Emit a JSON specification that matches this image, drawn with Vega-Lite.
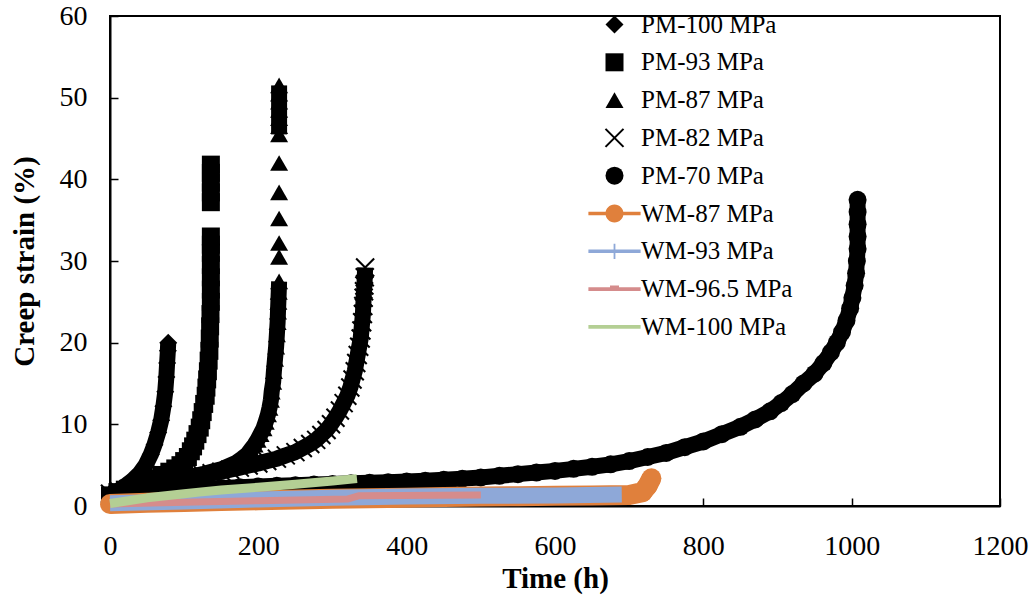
{
  "$schema": "https://vega.github.io/schema/vega-lite/v6.json",
  "width": 890,
  "height": 490,
  "autosize": {"type": "none"},
  "padding": {"left": 110, "top": 16, "right": 35, "bottom": 95},
  "background": "white",
  "config": {
    "view": {"stroke": "black", "strokeWidth": 2},
    "axis": {
      "grid": false,
      "labelFlush": false,
      "domainColor": "black",
      "domainWidth": 2,
      "tickColor": "black",
      "tickWidth": 1.5,
      "tickSize": -8,
      "labelFont": "Liberation Serif",
      "labelFontSize": 28,
      "labelColor": "black",
      "titleFont": "Liberation Serif",
      "titleFontSize": 29,
      "titleFontWeight": "bold",
      "titleColor": "black"
    },
    "legend": {
      "orient": "none",
      "legendX": 492,
      "legendY": -4,
      "padding": 0,
      "labelFont": "Liberation Serif",
      "labelFontSize": 25,
      "labelColor": "black",
      "labelOffset": 14,
      "rowPadding": 11.8,
      "symbolSize": 324,
      "symbolStrokeWidth": 0,
      "symbolOpacity": 1
    }
  },
  "data": {
    "values": [
      {"s": "PM-100 MPa", "run": 1, "t": 0, "e": 1.2},
      {"s": "PM-100 MPa", "run": 1, "t": 10, "e": 1.8},
      {"s": "PM-100 MPa", "run": 1, "t": 20, "e": 2.4},
      {"s": "PM-100 MPa", "run": 1, "t": 30, "e": 3.1},
      {"s": "PM-100 MPa", "run": 1, "t": 40, "e": 4.0},
      {"s": "PM-100 MPa", "run": 1, "t": 48, "e": 5.0},
      {"s": "PM-100 MPa", "run": 1, "t": 55, "e": 6.3},
      {"s": "PM-100 MPa", "run": 1, "t": 60, "e": 7.5},
      {"s": "PM-100 MPa", "run": 1, "t": 65, "e": 9.0},
      {"s": "PM-100 MPa", "run": 1, "t": 69, "e": 10.5},
      {"s": "PM-100 MPa", "run": 1, "t": 72, "e": 12.2},
      {"s": "PM-100 MPa", "run": 1, "t": 74.5, "e": 14.0},
      {"s": "PM-100 MPa", "run": 1, "t": 76, "e": 15.8},
      {"s": "PM-100 MPa", "run": 1, "t": 77, "e": 17.5},
      {"s": "PM-100 MPa", "run": 1, "t": 78, "e": 19.0},
      {"s": "PM-100 MPa", "run": 1, "t": 78.5, "e": 20.0},

      {"s": "PM-93 MPa", "run": 1, "t": 0, "e": 1.3},
      {"s": "PM-93 MPa", "run": 1, "t": 10, "e": 1.7},
      {"s": "PM-93 MPa", "run": 1, "t": 20, "e": 2.0},
      {"s": "PM-93 MPa", "run": 1, "t": 30, "e": 2.35},
      {"s": "PM-93 MPa", "run": 1, "t": 40, "e": 2.7},
      {"s": "PM-93 MPa", "run": 1, "t": 50, "e": 3.05},
      {"s": "PM-93 MPa", "run": 1, "t": 60, "e": 3.4},
      {"s": "PM-93 MPa", "run": 1, "t": 70, "e": 3.8},
      {"s": "PM-93 MPa", "run": 1, "t": 80, "e": 4.2},
      {"s": "PM-93 MPa", "run": 1, "t": 88, "e": 4.6},
      {"s": "PM-93 MPa", "run": 1, "t": 95, "e": 5.0},
      {"s": "PM-93 MPa", "run": 1, "t": 100, "e": 5.5},
      {"s": "PM-93 MPa", "run": 1, "t": 105, "e": 6.0},
      {"s": "PM-93 MPa", "run": 1, "t": 109, "e": 6.7},
      {"s": "PM-93 MPa", "run": 1, "t": 112, "e": 7.3},
      {"s": "PM-93 MPa", "run": 1, "t": 115, "e": 8.0},
      {"s": "PM-93 MPa", "run": 1, "t": 118, "e": 8.8},
      {"s": "PM-93 MPa", "run": 1, "t": 121, "e": 9.6},
      {"s": "PM-93 MPa", "run": 1, "t": 123, "e": 10.5},
      {"s": "PM-93 MPa", "run": 1, "t": 125, "e": 11.5},
      {"s": "PM-93 MPa", "run": 1, "t": 127, "e": 12.5},
      {"s": "PM-93 MPa", "run": 1, "t": 129, "e": 13.5},
      {"s": "PM-93 MPa", "run": 1, "t": 130, "e": 14.5},
      {"s": "PM-93 MPa", "run": 1, "t": 131, "e": 15.5},
      {"s": "PM-93 MPa", "run": 1, "t": 132, "e": 16.5},
      {"s": "PM-93 MPa", "run": 1, "t": 133, "e": 17.8},
      {"s": "PM-93 MPa", "run": 1, "t": 134, "e": 19.0},
      {"s": "PM-93 MPa", "run": 1, "t": 134.5, "e": 20.5},
      {"s": "PM-93 MPa", "run": 1, "t": 135, "e": 22.0},
      {"s": "PM-93 MPa", "run": 1, "t": 135.5, "e": 23.5},
      {"s": "PM-93 MPa", "run": 1, "t": 136, "e": 25.0},
      {"s": "PM-93 MPa", "run": 1, "t": 136, "e": 26.5},
      {"s": "PM-93 MPa", "run": 1, "t": 136, "e": 28.0},
      {"s": "PM-93 MPa", "run": 1, "t": 136, "e": 29.5},
      {"s": "PM-93 MPa", "run": 1, "t": 136, "e": 31.0},
      {"s": "PM-93 MPa", "run": 1, "t": 136, "e": 32.0},
      {"s": "PM-93 MPa", "run": 1, "t": 136, "e": 33.0},
      {"s": "PM-93 MPa", "run": 2, "t": 136, "e": 37.2},
      {"s": "PM-93 MPa", "run": 2, "t": 136, "e": 38.4},
      {"s": "PM-93 MPa", "run": 2, "t": 136, "e": 39.6},
      {"s": "PM-93 MPa", "run": 2, "t": 136, "e": 40.8},
      {"s": "PM-93 MPa", "run": 2, "t": 136, "e": 41.8},

      {"s": "PM-87 MPa", "run": 1, "t": 0, "e": 1.4},
      {"s": "PM-87 MPa", "run": 1, "t": 12, "e": 1.7},
      {"s": "PM-87 MPa", "run": 1, "t": 25, "e": 2.0},
      {"s": "PM-87 MPa", "run": 1, "t": 37, "e": 2.25},
      {"s": "PM-87 MPa", "run": 1, "t": 50, "e": 2.5},
      {"s": "PM-87 MPa", "run": 1, "t": 62, "e": 2.75},
      {"s": "PM-87 MPa", "run": 1, "t": 75, "e": 3.0},
      {"s": "PM-87 MPa", "run": 1, "t": 87, "e": 3.2},
      {"s": "PM-87 MPa", "run": 1, "t": 100, "e": 3.4},
      {"s": "PM-87 MPa", "run": 1, "t": 112, "e": 3.65},
      {"s": "PM-87 MPa", "run": 1, "t": 125, "e": 3.9},
      {"s": "PM-87 MPa", "run": 1, "t": 137, "e": 4.2},
      {"s": "PM-87 MPa", "run": 1, "t": 150, "e": 4.5},
      {"s": "PM-87 MPa", "run": 1, "t": 160, "e": 4.9},
      {"s": "PM-87 MPa", "run": 1, "t": 170, "e": 5.3},
      {"s": "PM-87 MPa", "run": 1, "t": 178, "e": 5.8},
      {"s": "PM-87 MPa", "run": 1, "t": 185, "e": 6.3},
      {"s": "PM-87 MPa", "run": 1, "t": 190, "e": 6.9},
      {"s": "PM-87 MPa", "run": 1, "t": 195, "e": 7.5},
      {"s": "PM-87 MPa", "run": 1, "t": 199, "e": 8.1},
      {"s": "PM-87 MPa", "run": 1, "t": 203, "e": 8.8},
      {"s": "PM-87 MPa", "run": 1, "t": 207, "e": 9.5},
      {"s": "PM-87 MPa", "run": 1, "t": 210, "e": 10.3},
      {"s": "PM-87 MPa", "run": 1, "t": 213, "e": 11.2},
      {"s": "PM-87 MPa", "run": 1, "t": 215, "e": 12.0},
      {"s": "PM-87 MPa", "run": 1, "t": 217, "e": 13.0},
      {"s": "PM-87 MPa", "run": 1, "t": 218, "e": 14.0},
      {"s": "PM-87 MPa", "run": 1, "t": 220, "e": 15.2},
      {"s": "PM-87 MPa", "run": 1, "t": 221, "e": 16.5},
      {"s": "PM-87 MPa", "run": 1, "t": 222.5, "e": 18.0},
      {"s": "PM-87 MPa", "run": 1, "t": 224, "e": 19.5},
      {"s": "PM-87 MPa", "run": 1, "t": 225, "e": 21.0},
      {"s": "PM-87 MPa", "run": 1, "t": 226, "e": 22.5},
      {"s": "PM-87 MPa", "run": 1, "t": 226.5, "e": 23.8},
      {"s": "PM-87 MPa", "run": 1, "t": 227, "e": 25.0},
      {"s": "PM-87 MPa", "run": 1, "t": 227.5, "e": 26.2},
      {"s": "PM-87 MPa", "run": 1, "t": 228, "e": 27.5},
      {"s": "PM-87 MPa", "run": 2, "t": 228, "e": 30.5},
      {"s": "PM-87 MPa", "run": 3, "t": 228, "e": 32.2},
      {"s": "PM-87 MPa", "run": 4, "t": 228, "e": 35.2},
      {"s": "PM-87 MPa", "run": 5, "t": 228, "e": 38.4},
      {"s": "PM-87 MPa", "run": 6, "t": 228, "e": 42.0},
      {"s": "PM-87 MPa", "run": 7, "t": 228, "e": 45.5},
      {"s": "PM-87 MPa", "run": 7, "t": 228, "e": 46.5},
      {"s": "PM-87 MPa", "run": 7, "t": 228, "e": 47.5},
      {"s": "PM-87 MPa", "run": 7, "t": 228, "e": 48.5},
      {"s": "PM-87 MPa", "run": 7, "t": 228, "e": 49.5},
      {"s": "PM-87 MPa", "run": 7, "t": 228, "e": 50.5},
      {"s": "PM-87 MPa", "run": 7, "t": 228, "e": 51.5},

      {"s": "PM-82 MPa", "run": 1, "t": 0, "e": 1.5},
      {"s": "PM-82 MPa", "run": 1, "t": 12, "e": 1.8},
      {"s": "PM-82 MPa", "run": 1, "t": 25, "e": 2.1},
      {"s": "PM-82 MPa", "run": 1, "t": 37, "e": 2.35},
      {"s": "PM-82 MPa", "run": 1, "t": 50, "e": 2.6},
      {"s": "PM-82 MPa", "run": 1, "t": 62, "e": 2.8},
      {"s": "PM-82 MPa", "run": 1, "t": 75, "e": 3.0},
      {"s": "PM-82 MPa", "run": 1, "t": 87, "e": 3.2},
      {"s": "PM-82 MPa", "run": 1, "t": 100, "e": 3.4},
      {"s": "PM-82 MPa", "run": 1, "t": 112, "e": 3.6},
      {"s": "PM-82 MPa", "run": 1, "t": 125, "e": 3.8},
      {"s": "PM-82 MPa", "run": 1, "t": 137, "e": 4.0},
      {"s": "PM-82 MPa", "run": 1, "t": 150, "e": 4.2},
      {"s": "PM-82 MPa", "run": 1, "t": 162, "e": 4.45},
      {"s": "PM-82 MPa", "run": 1, "t": 175, "e": 4.7},
      {"s": "PM-82 MPa", "run": 1, "t": 187, "e": 4.95},
      {"s": "PM-82 MPa", "run": 1, "t": 200, "e": 5.2},
      {"s": "PM-82 MPa", "run": 1, "t": 212, "e": 5.5},
      {"s": "PM-82 MPa", "run": 1, "t": 225, "e": 5.8},
      {"s": "PM-82 MPa", "run": 1, "t": 237, "e": 6.2},
      {"s": "PM-82 MPa", "run": 1, "t": 250, "e": 6.6},
      {"s": "PM-82 MPa", "run": 1, "t": 260, "e": 7.1},
      {"s": "PM-82 MPa", "run": 1, "t": 270, "e": 7.6},
      {"s": "PM-82 MPa", "run": 1, "t": 278, "e": 8.1},
      {"s": "PM-82 MPa", "run": 1, "t": 285, "e": 8.7},
      {"s": "PM-82 MPa", "run": 1, "t": 292, "e": 9.3},
      {"s": "PM-82 MPa", "run": 1, "t": 298, "e": 10.0},
      {"s": "PM-82 MPa", "run": 1, "t": 304, "e": 10.8},
      {"s": "PM-82 MPa", "run": 1, "t": 310, "e": 11.7},
      {"s": "PM-82 MPa", "run": 1, "t": 315, "e": 12.6},
      {"s": "PM-82 MPa", "run": 1, "t": 320, "e": 13.5},
      {"s": "PM-82 MPa", "run": 1, "t": 324, "e": 14.5},
      {"s": "PM-82 MPa", "run": 1, "t": 327, "e": 15.5},
      {"s": "PM-82 MPa", "run": 1, "t": 330, "e": 16.5},
      {"s": "PM-82 MPa", "run": 1, "t": 332, "e": 17.5},
      {"s": "PM-82 MPa", "run": 1, "t": 334, "e": 18.5},
      {"s": "PM-82 MPa", "run": 1, "t": 336, "e": 19.5},
      {"s": "PM-82 MPa", "run": 1, "t": 338, "e": 20.5},
      {"s": "PM-82 MPa", "run": 1, "t": 339, "e": 21.5},
      {"s": "PM-82 MPa", "run": 1, "t": 340, "e": 22.5},
      {"s": "PM-82 MPa", "run": 1, "t": 341, "e": 23.5},
      {"s": "PM-82 MPa", "run": 1, "t": 341.5, "e": 24.5},
      {"s": "PM-82 MPa", "run": 1, "t": 342, "e": 25.5},
      {"s": "PM-82 MPa", "run": 1, "t": 342.5, "e": 26.3},
      {"s": "PM-82 MPa", "run": 1, "t": 343, "e": 27.0},
      {"s": "PM-82 MPa", "run": 1, "t": 343.5, "e": 28.0},
      {"s": "PM-82 MPa", "run": 1, "t": 344, "e": 29.2},

      {"s": "PM-70 MPa", "run": 1, "t": 0, "e": 1.2},
      {"s": "PM-70 MPa", "run": 1, "t": 15, "e": 1.45},
      {"s": "PM-70 MPa", "run": 1, "t": 30, "e": 1.6},
      {"s": "PM-70 MPa", "run": 1, "t": 50, "e": 1.75},
      {"s": "PM-70 MPa", "run": 1, "t": 75, "e": 1.9},
      {"s": "PM-70 MPa", "run": 1, "t": 100, "e": 2.0},
      {"s": "PM-70 MPa", "run": 1, "t": 125, "e": 2.1},
      {"s": "PM-70 MPa", "run": 1, "t": 150, "e": 2.2},
      {"s": "PM-70 MPa", "run": 1, "t": 175, "e": 2.3},
      {"s": "PM-70 MPa", "run": 1, "t": 200, "e": 2.4},
      {"s": "PM-70 MPa", "run": 1, "t": 225, "e": 2.48},
      {"s": "PM-70 MPa", "run": 1, "t": 250, "e": 2.55},
      {"s": "PM-70 MPa", "run": 1, "t": 275, "e": 2.62},
      {"s": "PM-70 MPa", "run": 1, "t": 300, "e": 2.7},
      {"s": "PM-70 MPa", "run": 1, "t": 325, "e": 2.78},
      {"s": "PM-70 MPa", "run": 1, "t": 350, "e": 2.85},
      {"s": "PM-70 MPa", "run": 1, "t": 375, "e": 2.92},
      {"s": "PM-70 MPa", "run": 1, "t": 400, "e": 3.0},
      {"s": "PM-70 MPa", "run": 1, "t": 425, "e": 3.1},
      {"s": "PM-70 MPa", "run": 1, "t": 450, "e": 3.2},
      {"s": "PM-70 MPa", "run": 1, "t": 475, "e": 3.35},
      {"s": "PM-70 MPa", "run": 1, "t": 500, "e": 3.5},
      {"s": "PM-70 MPa", "run": 1, "t": 525, "e": 3.7},
      {"s": "PM-70 MPa", "run": 1, "t": 550, "e": 3.9},
      {"s": "PM-70 MPa", "run": 1, "t": 575, "e": 4.1},
      {"s": "PM-70 MPa", "run": 1, "t": 600, "e": 4.3},
      {"s": "PM-70 MPa", "run": 1, "t": 625, "e": 4.55},
      {"s": "PM-70 MPa", "run": 1, "t": 650, "e": 4.8},
      {"s": "PM-70 MPa", "run": 1, "t": 675, "e": 5.1},
      {"s": "PM-70 MPa", "run": 1, "t": 700, "e": 5.5},
      {"s": "PM-70 MPa", "run": 1, "t": 725, "e": 6.0},
      {"s": "PM-70 MPa", "run": 1, "t": 750, "e": 6.5},
      {"s": "PM-70 MPa", "run": 1, "t": 775, "e": 7.2},
      {"s": "PM-70 MPa", "run": 1, "t": 800, "e": 7.9},
      {"s": "PM-70 MPa", "run": 1, "t": 825, "e": 8.8},
      {"s": "PM-70 MPa", "run": 1, "t": 850, "e": 9.7},
      {"s": "PM-70 MPa", "run": 1, "t": 870, "e": 10.6},
      {"s": "PM-70 MPa", "run": 1, "t": 890, "e": 11.6},
      {"s": "PM-70 MPa", "run": 1, "t": 905, "e": 12.6},
      {"s": "PM-70 MPa", "run": 1, "t": 920, "e": 13.7},
      {"s": "PM-70 MPa", "run": 1, "t": 935, "e": 15.0},
      {"s": "PM-70 MPa", "run": 1, "t": 950, "e": 16.2},
      {"s": "PM-70 MPa", "run": 1, "t": 962, "e": 17.5},
      {"s": "PM-70 MPa", "run": 1, "t": 972, "e": 18.8},
      {"s": "PM-70 MPa", "run": 1, "t": 980, "e": 20.0},
      {"s": "PM-70 MPa", "run": 1, "t": 987, "e": 21.3},
      {"s": "PM-70 MPa", "run": 1, "t": 993, "e": 22.7},
      {"s": "PM-70 MPa", "run": 1, "t": 998, "e": 24.2},
      {"s": "PM-70 MPa", "run": 1, "t": 1001, "e": 25.5},
      {"s": "PM-70 MPa", "run": 1, "t": 1004, "e": 27.0},
      {"s": "PM-70 MPa", "run": 1, "t": 1006, "e": 28.5},
      {"s": "PM-70 MPa", "run": 1, "t": 1007, "e": 30.0},
      {"s": "PM-70 MPa", "run": 1, "t": 1008, "e": 31.5},
      {"s": "PM-70 MPa", "run": 1, "t": 1008, "e": 33.0},
      {"s": "PM-70 MPa", "run": 1, "t": 1008, "e": 34.5},
      {"s": "PM-70 MPa", "run": 1, "t": 1008, "e": 36.0},
      {"s": "PM-70 MPa", "run": 1, "t": 1008, "e": 37.5},

      {"s": "WM-87 MPa", "run": 1, "t": 0, "e": 0.25},
      {"s": "WM-87 MPa", "run": 1, "t": 50, "e": 0.4},
      {"s": "WM-87 MPa", "run": 1, "t": 100, "e": 0.5},
      {"s": "WM-87 MPa", "run": 1, "t": 150, "e": 0.6},
      {"s": "WM-87 MPa", "run": 1, "t": 200, "e": 0.7},
      {"s": "WM-87 MPa", "run": 1, "t": 250, "e": 0.8},
      {"s": "WM-87 MPa", "run": 1, "t": 300, "e": 0.9},
      {"s": "WM-87 MPa", "run": 1, "t": 350, "e": 0.95},
      {"s": "WM-87 MPa", "run": 1, "t": 400, "e": 1.0},
      {"s": "WM-87 MPa", "run": 1, "t": 450, "e": 1.1},
      {"s": "WM-87 MPa", "run": 1, "t": 500, "e": 1.15},
      {"s": "WM-87 MPa", "run": 1, "t": 550, "e": 1.2},
      {"s": "WM-87 MPa", "run": 1, "t": 600, "e": 1.25},
      {"s": "WM-87 MPa", "run": 1, "t": 650, "e": 1.3},
      {"s": "WM-87 MPa", "run": 1, "t": 700, "e": 1.35},
      {"s": "WM-87 MPa", "run": 1, "t": 718, "e": 1.7},
      {"s": "WM-87 MPa", "run": 1, "t": 725, "e": 2.5},
      {"s": "WM-87 MPa", "run": 1, "t": 730, "e": 3.4},

      {"s": "WM-93 MPa", "run": 1, "t": 0, "e": 0.35},
      {"s": "WM-93 MPa", "run": 1, "t": 100, "e": 0.55},
      {"s": "WM-93 MPa", "run": 1, "t": 200, "e": 0.8},
      {"s": "WM-93 MPa", "run": 1, "t": 300, "e": 1.0},
      {"s": "WM-93 MPa", "run": 1, "t": 400, "e": 1.15},
      {"s": "WM-93 MPa", "run": 1, "t": 500, "e": 1.25},
      {"s": "WM-93 MPa", "run": 1, "t": 600, "e": 1.3},
      {"s": "WM-93 MPa", "run": 1, "t": 690, "e": 1.4},

      {"s": "WM-96.5 MPa", "run": 1, "t": 0, "e": 0.25},
      {"s": "WM-96.5 MPa", "run": 1, "t": 100, "e": 0.45},
      {"s": "WM-96.5 MPa", "run": 1, "t": 200, "e": 0.65},
      {"s": "WM-96.5 MPa", "run": 1, "t": 320, "e": 0.85},
      {"s": "WM-96.5 MPa", "run": 1, "t": 335, "e": 1.25},
      {"s": "WM-96.5 MPa", "run": 1, "t": 500, "e": 1.35},

      {"s": "WM-100 MPa", "run": 1, "t": 0, "e": 0.3},
      {"s": "WM-100 MPa", "run": 1, "t": 50, "e": 1.0},
      {"s": "WM-100 MPa", "run": 1, "t": 100, "e": 1.5},
      {"s": "WM-100 MPa", "run": 1, "t": 120, "e": 1.7},
      {"s": "WM-100 MPa", "run": 1, "t": 150, "e": 1.95},
      {"s": "WM-100 MPa", "run": 1, "t": 200, "e": 2.3},
      {"s": "WM-100 MPa", "run": 1, "t": 250, "e": 2.65},
      {"s": "WM-100 MPa", "run": 1, "t": 300, "e": 3.05},
      {"s": "WM-100 MPa", "run": 1, "t": 333, "e": 3.35}
    ]
  },
  "encoding": {
    "x": {
      "field": "t",
      "type": "quantitative",
      "scale": {"domain": [0, 1200], "nice": false},
      "axis": {"values": [0, 200, 400, 600, 800, 1000, 1200], "format": "d", "title": "Time (h)", "labelPadding": 34, "titlePadding": 4}
    },
    "y": {
      "field": "e",
      "type": "quantitative",
      "scale": {"domain": [0, 60], "nice": false},
      "axis": {"values": [0, 10, 20, 30, 40, 50, 60], "format": "d", "title": "Creep strain (%)", "labelPadding": 31, "titlePadding": 20}
    }
  },
  "layer": [
    {
      "transform": [{"filter": "indexof(datum.s, 'PM') == 0"}],
      "mark": {"type": "line", "color": "black", "strokeWidth": 16, "strokeCap": "butt", "strokeJoin": "round"},
      "encoding": {
        "detail": [{"field": "s", "type": "nominal"}, {"field": "run", "type": "nominal"}],
        "order": {"field": "e", "type": "quantitative"}
      }
    },
    {
      "transform": [{"filter": "indexof(datum.s, 'PM') == 0"}],
      "mark": {"type": "point", "filled": true, "size": 324, "opacity": 1, "strokeWidth": 0},
      "encoding": {
        "color": {
          "field": "s",
          "type": "nominal",
          "scale": {
            "domain": ["PM-100 MPa", "PM-93 MPa", "PM-87 MPa", "PM-82 MPa", "PM-70 MPa", "WM-87 MPa", "WM-93 MPa", "WM-96.5 MPa", "WM-100 MPa"],
            "range": ["black", "black", "black", "black", "black", "#E0803C", "#8EA8D8", "#D58C8C", "#B4CF94"]
          },
          "legend": {"title": null}
        },
        "shape": {
          "field": "s",
          "type": "nominal",
          "scale": {
            "domain": ["PM-100 MPa", "PM-93 MPa", "PM-87 MPa", "PM-82 MPa", "PM-70 MPa", "WM-87 MPa", "WM-93 MPa", "WM-96.5 MPa", "WM-100 MPa"],
            "range": [
              "diamond",
              "square",
              "triangle-up",
              "M-0.92,-1.08L1.08,0.92L0.92,1.08L-1.08,-0.92ZM-0.92,1.08L-1.08,0.92L0.92,-1.08L1.08,-0.92Z",
              "circle",
              "M-2.9,-0.2H2.9V0.2H-2.9ZM1,0A1,1 0 1,1 -1,0A1,1 0 1,1 1,0Z",
              "M-2.9,-0.2H2.9V0.2H-2.9ZM-0.1,-0.85H0.1V0.85H-0.1Z",
              "M-2.9,-0.2H2.9V0.2H-2.9ZM-0.5,-0.4H0.5V0.2H-0.5Z",
              "M-2.9,-0.2H2.9V0.2H-2.9Z"
            ]
          },
          "legend": {"title": null}
        }
      }
    },
    {
      "transform": [{"filter": "datum.s == 'WM-87 MPa' && (datum.t == 0 || datum.t >= 718)"}],
      "mark": {"type": "point", "shape": "circle", "filled": true, "size": 400, "opacity": 1, "strokeWidth": 0, "color": "#E0803C"}
    },
    {
      "transform": [{"filter": "datum.s == 'WM-87 MPa'"}],
      "mark": {"type": "line", "color": "#E0803C", "strokeWidth": 20, "strokeCap": "butt", "strokeJoin": "round"},
      "encoding": {"order": {"field": "e", "type": "quantitative"}}
    },
    {
      "transform": [{"filter": "datum.s == 'WM-93 MPa'"}],
      "mark": {"type": "line", "color": "#8EA8D8", "strokeWidth": 16, "strokeCap": "butt", "strokeJoin": "round"},
      "encoding": {"order": {"field": "e", "type": "quantitative"}}
    },
    {
      "transform": [{"filter": "datum.s == 'WM-96.5 MPa'"}],
      "mark": {"type": "line", "color": "#D58C8C", "strokeWidth": 7, "strokeCap": "butt", "strokeJoin": "round"},
      "encoding": {"order": {"field": "e", "type": "quantitative"}}
    },
    {
      "transform": [{"filter": "datum.s == 'WM-100 MPa'"}],
      "mark": {"type": "line", "color": "#B4CF94", "strokeWidth": 9, "strokeCap": "butt", "strokeJoin": "round"},
      "encoding": {"order": {"field": "e", "type": "quantitative"}}
    }
  ]
}
